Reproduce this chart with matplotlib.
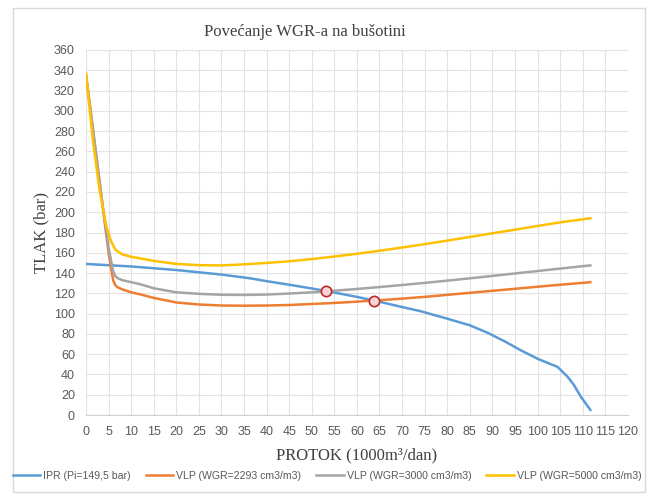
import matplotlib.pyplot as plt
from matplotlib.patches import Rectangle

# ---------------------------
# data
# ---------------------------
ipr_q = [0, 10, 20, 30, 36.4, 40, 45, 50, 53.2, 60, 63.7, 70, 74, 80, 85, 89, 93,
         96, 100, 103, 104.4, 106.6, 108, 109.6, 111.7]
ipr_p = [149, 146.5, 143, 138.5, 134.8, 132, 128.5, 124.8, 122.3, 116.5, 113, 106.5,
         102.5, 95, 88.5, 81, 72, 64.5, 55.5, 50, 47.6, 38, 30, 18, 5]

vlp_q = [0, 1, 2, 3, 4, 5, 6, 6.5, 7, 8, 10, 12, 15, 20, 25, 30, 35, 40, 45, 50, 55,
         60, 65, 70, 75, 80, 85, 90, 95, 100, 105, 110, 111.7]
vlp2293_p = [335, 300, 265, 230, 195, 160, 133, 128, 126, 124, 121, 119, 115.5, 111,
             109, 108, 107.8, 108, 108.5, 109.5, 110.5, 111.8, 113.2, 114.8, 116.5,
             118.5, 120.5, 122.5, 124.5, 126.5, 128.5, 130.3, 131]
vlp3000_p = [336, 301, 266, 231, 196, 165, 142, 137, 135, 133, 131, 129, 125, 121,
             119.5, 118.6, 118.4, 118.8, 119.8, 121, 122.6, 124.3, 126.2, 128.2, 130.3,
             132.5, 134.8, 137.2, 139.6, 142, 144.4, 146.8, 147.5]

vlp5000_q = [0, 1.5, 3, 4.5, 5.5, 6.5, 8, 10, 12, 15, 20, 25, 30, 35, 40, 45, 50, 55,
             60, 65, 70, 75, 80, 85, 90, 95, 100, 105, 110, 111.7]
vlp5000_p = [337, 272, 222, 186, 172, 163, 158.5, 156, 154.5, 152, 149, 147.8, 147.5,
             148.6, 150, 151.6, 153.8, 156.3, 159, 162, 165.2, 168.5, 172, 175.6, 179.2,
             182.8, 186.4, 190, 193, 194]

# operating points (IPR x VLP)
op_q = [53.2, 63.7]
op_p = [122.3, 112.7]

labels = ["IPR (Pi=149,5 bar)", "VLP (WGR=2293 cm3/m3)",
          "VLP (WGR=3000 cm3/m3)", "VLP (WGR=5000 cm3/m3)"]
colors = ["#5B9BD5", "#ED7D31", "#A5A5A5", "#FFC000"]

sans = ["Liberation Sans", "DejaVu Sans"]
serif = ["Liberation Serif", "DejaVu Serif"]
txt = "#595959"

# --------------------------------
# plot
# --------------------------------
fig = plt.figure(figsize=(6.54, 4.95), dpi=100)
ax = fig.add_axes([0.1315, 0.1616, 0.8285, 0.7374])

# outer chart border
fig.patches.append(Rectangle((13 / 654, 3 / 495), 632 / 654, 484 / 495,
                             transform=fig.transFigure, fill=False,
                             edgecolor="#D9D9D9", lw=1))

ax.plot(ipr_q, ipr_p, color=colors[0], lw=1.8, label=labels[0])
ax.plot(vlp_q, vlp2293_p, color=colors[1], lw=1.8, label=labels[1])
ax.plot(vlp_q, vlp3000_p, color=colors[2], lw=1.8, label=labels[2])
ax.plot(vlp5000_q, vlp5000_p, color=colors[3], lw=1.8, label=labels[3])
ax.scatter(op_q, op_p, s=55, facecolor="#F6D5D5", edgecolor="#C0272D", lw=1.2, zorder=5)

ax.set_xlim(0, 120)
ax.set_ylim(0, 360)
ax.set_xticks(range(0, 121, 5))
ax.set_yticks(range(0, 361, 20))
ax.grid(True, color="#E3E3E3", lw=0.8)
ax.set_axisbelow(True)
for s in ["top", "right", "left"]:
    ax.spines[s].set_visible(False)
ax.spines["bottom"].set_color("#D0D0D0")
ax.tick_params(length=0, pad=8, labelsize=9, labelcolor=txt)
for lab in ax.get_xticklabels() + ax.get_yticklabels():
    lab.set_family(sans)

fig.text(305 / 654, 1 - 32 / 495, "Povećanje WGR-a na bušotini", family=serif,
         fontsize=12, color="#404040", ha="center", va="center")
ax.set_xlabel("PROTOK (1000m³/dan)", family=serif, fontsize=12, color="#404040",
              labelpad=7)
ax.set_ylabel("TLAK (bar)", family=serif, fontsize=12, color="#404040", labelpad=3)

leg = fig.legend(loc="center", bbox_to_anchor=(0.5, 0.038), ncol=4, frameon=False,
                 prop={"family": sans, "size": 7.6}, handlelength=2.6,
                 columnspacing=1.4, handletextpad=0.3)
for t in leg.get_texts():
    t.set_color(txt)

fig.savefig("out.png", dpi=100)
